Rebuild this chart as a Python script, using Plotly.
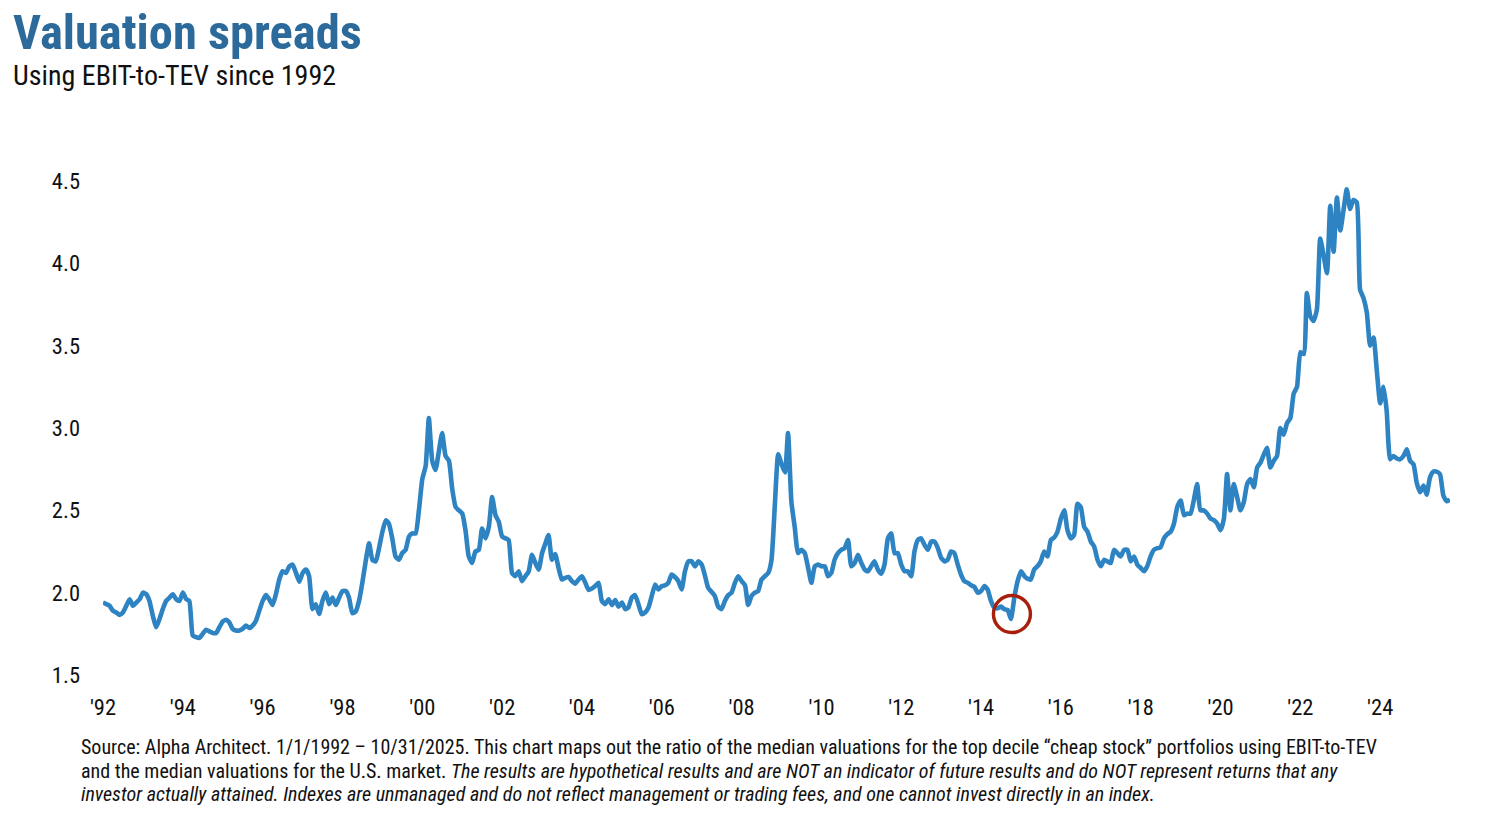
import pandas as pd
import plotly.graph_objects as go

# ---- data (monthly, Jan 1992 - Oct 2025) ----
values_1992_1999 = [
    1.94, 1.93, 1.92, 1.89, 1.88, 1.865, 1.88, 1.92, 1.96, 1.92, 1.94, 1.96,
    2.00, 1.99, 1.95, 1.86, 1.79, 1.84, 1.90, 1.95, 1.97, 1.99, 1.96, 1.95,
    2.00, 1.96, 1.95, 1.74, 1.73, 1.725, 1.75, 1.775, 1.765, 1.755, 1.755, 1.79,
    1.825, 1.835, 1.82, 1.78, 1.77, 1.77, 1.78, 1.80, 1.785, 1.80, 1.83, 1.89,
    1.95, 1.985, 1.96, 1.925, 1.99, 2.08, 2.13, 2.12, 2.16, 2.17, 2.12, 2.067,
    2.12, 2.14, 2.10, 1.90, 1.93, 1.87, 1.95, 2.00, 1.93, 1.97, 1.925, 1.97,
    2.01, 2.01, 1.97, 1.875, 1.885, 1.95, 2.06, 2.19, 2.30, 2.20, 2.19, 2.27,
    2.37, 2.44, 2.42, 2.33, 2.22, 2.20, 2.24, 2.26, 2.34, 2.36, 2.36, 2.50,
]
values_2000_2009 = [
    2.69, 2.77, 3.06, 2.80, 2.745, 2.86, 2.97, 2.83, 2.80, 2.63, 2.52, 2.50,
    2.48, 2.37, 2.22, 2.18, 2.25, 2.26, 2.39, 2.33, 2.40, 2.58, 2.47, 2.43,
    2.34, 2.33, 2.32, 2.12, 2.10, 2.13, 2.07, 2.10, 2.13, 2.23, 2.18, 2.14,
    2.24, 2.30, 2.35, 2.20, 2.235, 2.15, 2.08, 2.09, 2.095, 2.07, 2.055, 2.08,
    2.10, 2.06, 2.017, 2.025, 2.04, 2.06, 1.95, 1.93, 1.96, 1.925, 1.955, 1.915,
    1.94, 1.90, 1.91, 1.97, 1.985, 1.93, 1.87, 1.88, 1.91, 1.98, 2.05, 2.02,
    2.04, 2.045, 2.06, 2.11, 2.095, 2.07, 2.02, 2.13, 2.19, 2.19, 2.16, 2.19,
    2.17, 2.10, 2.03, 2.005, 1.98, 1.915, 1.90, 1.95, 1.985, 2.00, 2.06, 2.10,
    2.07, 2.045, 1.925, 1.98, 2.00, 2.01, 2.08, 2.10, 2.12, 2.20, 2.54, 2.84,
    2.78, 2.73, 2.97, 2.55, 2.40, 2.24, 2.26, 2.24, 2.15, 2.06, 2.16, 2.17,
]
values_2010_2019 = [
    2.16, 2.16, 2.10, 2.12, 2.20, 2.24, 2.26, 2.27, 2.32, 2.16, 2.18, 2.23,
    2.18, 2.14, 2.13, 2.16, 2.19, 2.14, 2.115, 2.17, 2.33, 2.36, 2.24, 2.24,
    2.17, 2.13, 2.13, 2.10, 2.25, 2.32, 2.33, 2.29, 2.26, 2.31, 2.31, 2.27,
    2.21, 2.19, 2.20, 2.25, 2.24, 2.17, 2.11, 2.07, 2.06, 2.045, 2.035, 2.00,
    2.01, 2.04, 2.02, 1.95, 1.91, 1.905, 1.915, 1.90, 1.895, 1.84, 1.97, 2.07,
    2.13, 2.10, 2.085, 2.08, 2.14, 2.16, 2.19, 2.25, 2.22, 2.32, 2.335, 2.37,
    2.45, 2.50, 2.38, 2.33, 2.35, 2.54, 2.52, 2.40, 2.37, 2.31, 2.28, 2.20,
    2.16, 2.20, 2.19, 2.18, 2.26, 2.24, 2.22, 2.26, 2.26, 2.19, 2.22, 2.17,
    2.15, 2.13, 2.16, 2.22, 2.26, 2.27, 2.275, 2.33, 2.355, 2.37, 2.42, 2.52,
    2.56, 2.47, 2.48, 2.48, 2.56, 2.66, 2.50, 2.50, 2.48, 2.45, 2.44, 2.42,
]
values_2020_2025 = [
    2.38, 2.45, 2.72, 2.50, 2.66, 2.58, 2.50, 2.55, 2.66, 2.69, 2.64, 2.76,
    2.79, 2.84, 2.88, 2.76, 2.80, 2.83, 3.00, 2.96, 3.03, 3.06, 3.21, 3.25,
    3.46, 3.45, 3.82, 3.68, 3.65, 3.72, 4.15, 4.05, 3.94, 4.35, 4.07, 4.40,
    4.20, 4.33, 4.45, 4.33, 4.385, 4.37, 3.84, 3.79, 3.70, 3.50, 3.55, 3.35,
    3.15, 3.25, 3.10, 2.81, 2.83, 2.815, 2.81, 2.83, 2.87, 2.80, 2.78, 2.665,
    2.61, 2.65, 2.595, 2.70, 2.735, 2.735, 2.72, 2.59, 2.555, 2.565,
]
start_month = "1992-01-01"
highlight_date = "2014-10-10"
highlight_value = 1.87

y_ticks = [1.5, 2.0, 2.5, 3.0, 3.5, 4.0, 4.5]

title_text = "Valuation spreads"
subtitle_text = "Using EBIT-to-TEV since 1992"
footnote_lines = [
    "Source: Alpha Architect. 1/1/1992 \u2013 10/31/2025. This chart maps out the ratio of the median valuations for the top decile \u201ccheap stock\u201d portfolios using EBIT-to-TEV",
    "and the median valuations for the U.S. market. <i>The results are hypothetical results and are NOT an indicator of future results and do NOT represent returns that any</i>",
    "<i>investor actually attained. Indexes are unmanaged and do not reflect management or trading fees, and one cannot invest directly in an index.</i>",
]

values = values_1992_1999 + values_2000_2009 + values_2010_2019 + values_2020_2025
dates = pd.date_range(start_month, periods=len(values), freq="MS")

# ---- layout geometry (pixels) ----
W, H = 1485, 823
L, R, T, B = 103, 35, 181, 148
PW, PH = W - L - R, H - T - B

def px_x(x):
    return (x - L) / PW

def px_y(y):
    return 1 - (y - T) / PH

FONT = "Roboto Condensed, Liberation Sans Narrow, DejaVu Sans Condensed, Roboto, sans-serif"
LINE_COLOR = "#2E83C2"

fig = go.Figure()
fig.add_trace(go.Scatter(
    x=dates, y=values, mode="lines",
    line=dict(color=LINE_COLOR, width=4.6, shape="spline", smoothing=0.5),
    hoverinfo="x+y", showlegend=False,
))
fig.add_trace(go.Scatter(
    x=[pd.Timestamp(highlight_date)], y=[highlight_value], mode="markers",
    marker=dict(symbol="circle-open", size=37, color="#A8200C", line=dict(width=3.4, color="#A8200C")),
    hoverinfo="skip", showlegend=False, cliponaxis=False,
))

annotations = [
    dict(text=f"<b>{title_text}</b>", x=px_x(11), y=px_y(2), xref="paper", yref="paper",
         xanchor="left", yanchor="top", showarrow=False,
         font=dict(size=48.5, color="#2B6A9B", family=FONT)),
    dict(text=subtitle_text, x=px_x(11), y=px_y(57), xref="paper", yref="paper",
         xanchor="left", yanchor="top", showarrow=False,
         font=dict(size=28, color="#111111", family=FONT)),
]
foot_tops = [733, 757, 780]
for line_text, top in zip(footnote_lines, foot_tops):
    annotations.append(dict(
        text=line_text, x=px_x(79), y=px_y(top), xref="paper", yref="paper",
        xanchor="left", yanchor="top", align="left", showarrow=False,
        font=dict(size=20, color="#111111", family=FONT)))

fig.update_layout(
    width=W, height=H,
    margin=dict(l=L, r=R, t=T, b=B, autoexpand=False),
    paper_bgcolor="white", plot_bgcolor="white",
    font=dict(family=FONT, color="#111111"),
    xaxis=dict(
        type="date",
        range=[dates[0], dates[-1]],
        tick0=start_month, dtick="M24", tickformat="'%y",
        showgrid=False, zeroline=False, showline=False, ticks="",
        tickfont=dict(size=22.5, color="#111111", family=FONT),
        ticklabelstandoff=16,
    ),
    yaxis=dict(
        range=[1.5, 4.5], tickvals=y_ticks, tickformat=".1f",
        showgrid=False, zeroline=False, showline=False, ticks="",
        tickfont=dict(size=22.5, color="#111111", family=FONT),
        ticklabelstandoff=22,
    ),
    annotations=annotations,
)

fig.write_html("out.html")
